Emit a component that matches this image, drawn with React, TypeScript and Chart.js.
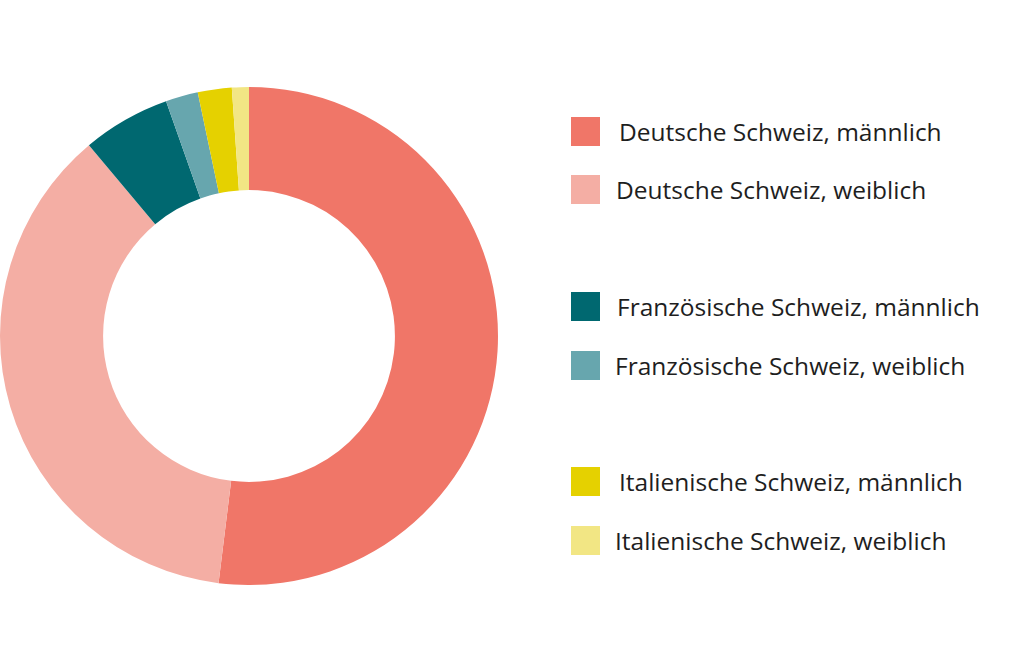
import React, { useEffect, useRef } from "react";
import { Chart, registerables } from "chart.js";

Chart.register(...registerables);

const categories = [
  "Deutsche Schweiz, männlich",
  "Deutsche Schweiz, weiblich",
  "Französische Schweiz, männlich",
  "Französische Schweiz, weiblich",
  "Italienische Schweiz, männlich",
  "Italienische Schweiz, weiblich",
];
const values = [51.9, 36.9, 5.7, 2.1, 2.2, 1.1];
const colors = ["#F07668", "#F4AEA4", "#006870", "#67A6AE", "#E5D100", "#F2E684"];
// legend row tops (px) and text left indent
const legendTops = [117, 175, 292, 351, 467, 526];
const legendTextLeft = [619, 616, 617, 615, 619, 615];

export default function App() {
  const ref = useRef<HTMLCanvasElement>(null);
  useEffect(() => {
    if (!ref.current) return;
    const chart = new Chart(ref.current, {
      type: "doughnut",
      data: {
        labels: categories,
        datasets: [
          {
            data: values,
            backgroundColor: colors,
            borderWidth: 0,
          },
        ],
      },
      options: {
        animation: false,
        responsive: false,
        cutout: "58.6%",
        layout: { padding: 0 },
        plugins: { legend: { display: false }, tooltip: { enabled: false } },
      },
    });
    return () => chart.destroy();
  }, []);

  return (
    <div
      style={{
        position: "fixed",
        left: 0,
        top: 0,
        width: 1024,
        height: 658,
        background: "#fff",
        fontFamily: "'Open Sans', 'Noto Sans', sans-serif",
      }}
    >
      <canvas
        ref={ref}
        width={498}
        height={498}
        style={{ position: "absolute", left: 0, top: 87, width: 498, height: 498 }}
      />
      {categories.map((c, i) => (
        <React.Fragment key={c}>
          <div
            style={{
              position: "absolute",
              left: 571,
              top: legendTops[i],
              width: 29,
              height: 29,
              background: colors[i],
            }}
          />
          <div
            style={{
              position: "absolute",
              left: legendTextLeft[i],
              top: legendTops[i],
              height: 29,
              lineHeight: "29px",
              fontSize: 24.5,
              color: "#1e1e1e",
              whiteSpace: "nowrap",
            }}
          >
            {c}
          </div>
        </React.Fragment>
      ))}
    </div>
  );
}
